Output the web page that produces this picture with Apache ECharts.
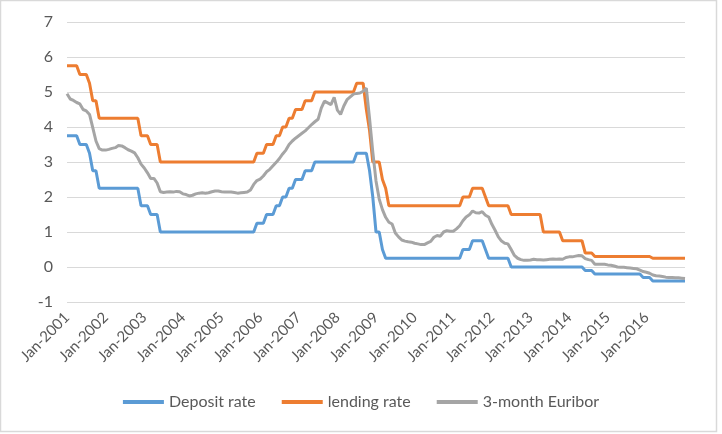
<!DOCTYPE html>
<html>
<head>
<meta charset="utf-8">
<script src="https://cdn.jsdelivr.net/npm/echarts@6/dist/echarts.min.js"></script>
<style>
html,body{margin:0;padding:0;background:#fff;}
#chart{width:722px;height:434px;}
</style>
</head>
<body>
<div id="chart"></div>
<script>
// Month names and years used to build the monthly category labels (Jan-2001 .. Jan-2017)
var monthNames = ['Jan','Feb','Mar','Apr','May','Jun','Jul','Aug','Sep','Oct','Nov','Dec'];
var years = [2001,2002,2003,2004,2005,2006,2007,2008,2009,2010,2011,2012,2013,2014,2015,2016,2017];

// Deposit facility rate, monthly (one row per year)
var depositRate = [
  3.75,3.75,3.75,3.75,3.5,3.5,3.5,3.25,2.75,2.75,2.25,2.25,
  2.25,2.25,2.25,2.25,2.25,2.25,2.25,2.25,2.25,2.25,2.25,1.75,
  1.75,1.75,1.5,1.5,1.5,1,1,1,1,1,1,1,
  1,1,1,1,1,1,1,1,1,1,1,1,
  1,1,1,1,1,1,1,1,1,1,1,1.25,
  1.25,1.25,1.5,1.5,1.5,1.75,1.75,2,2,2.25,2.25,2.5,
  2.5,2.5,2.75,2.75,2.75,3,3,3,3,3,3,3,
  3,3,3,3,3,3,3.25,3.25,3.25,3.25,2.75,2,
  1,1,0.5,0.25,0.25,0.25,0.25,0.25,0.25,0.25,0.25,0.25,
  0.25,0.25,0.25,0.25,0.25,0.25,0.25,0.25,0.25,0.25,0.25,0.25,
  0.25,0.25,0.25,0.5,0.5,0.5,0.75,0.75,0.75,0.75,0.5,0.25,
  0.25,0.25,0.25,0.25,0.25,0.25,0,0,0,0,0,0,
  0,0,0,0,0,0,0,0,0,0,0,0,
  0,0,0,0,0,-0.1,-0.1,-0.1,-0.2,-0.2,-0.2,-0.2,
  -0.2,-0.2,-0.2,-0.2,-0.2,-0.2,-0.2,-0.2,-0.2,-0.2,-0.2,-0.3,
  -0.3,-0.3,-0.4,-0.4,-0.4,-0.4,-0.4,-0.4,-0.4,-0.4,-0.4,-0.4,
  -0.4
];

// Marginal lending facility rate, monthly
var lendingRate = [
  5.75,5.75,5.75,5.75,5.5,5.5,5.5,5.25,4.75,4.75,4.25,4.25,
  4.25,4.25,4.25,4.25,4.25,4.25,4.25,4.25,4.25,4.25,4.25,3.75,
  3.75,3.75,3.5,3.5,3.5,3,3,3,3,3,3,3,
  3,3,3,3,3,3,3,3,3,3,3,3,
  3,3,3,3,3,3,3,3,3,3,3,3.25,
  3.25,3.25,3.5,3.5,3.5,3.75,3.75,4,4,4.25,4.25,4.5,
  4.5,4.5,4.75,4.75,4.75,5,5,5,5,5,5,5,
  5,5,5,5,5,5,5.25,5.25,5.25,4.5,3.9,3,
  3,3,2.5,2.25,1.75,1.75,1.75,1.75,1.75,1.75,1.75,1.75,
  1.75,1.75,1.75,1.75,1.75,1.75,1.75,1.75,1.75,1.75,1.75,1.75,
  1.75,1.75,1.75,2,2,2,2.25,2.25,2.25,2.25,2,1.75,
  1.75,1.75,1.75,1.75,1.75,1.75,1.5,1.5,1.5,1.5,1.5,1.5,
  1.5,1.5,1.5,1.5,1,1,1,1,1,1,0.75,0.75,
  0.75,0.75,0.75,0.75,0.75,0.4,0.4,0.4,0.3,0.3,0.3,0.3,
  0.3,0.3,0.3,0.3,0.3,0.3,0.3,0.3,0.3,0.3,0.3,0.3,
  0.3,0.3,0.25,0.25,0.25,0.25,0.25,0.25,0.25,0.25,0.25,0.25,
  0.25
];

// 3-month Euribor, monthly
var euribor3m = [
  4.95,4.80,4.76,4.70,4.66,4.50,4.46,4.36,3.98,3.60,3.38,3.34,
  3.34,3.36,3.39,3.41,3.47,3.46,3.41,3.35,3.31,3.26,3.12,2.94,
  2.83,2.69,2.53,2.53,2.40,2.15,2.13,2.14,2.15,2.14,2.16,2.15,
  2.09,2.07,2.03,2.05,2.09,2.11,2.12,2.11,2.12,2.15,2.17,2.17,
  2.15,2.14,2.14,2.14,2.13,2.11,2.12,2.13,2.14,2.20,2.36,2.47,
  2.51,2.60,2.72,2.79,2.89,2.99,3.10,3.23,3.34,3.50,3.60,3.68,
  3.75,3.82,3.89,3.98,4.07,4.15,4.22,4.54,4.74,4.69,4.64,4.85,
  4.48,4.36,4.60,4.78,4.86,4.94,4.96,4.97,5.02,5.11,4.24,3.29,
  2.46,1.94,1.64,1.42,1.28,1.23,0.97,0.86,0.77,0.74,0.72,0.71,
  0.68,0.66,0.64,0.64,0.69,0.73,0.85,0.90,0.88,1.00,1.04,1.02,
  1.02,1.09,1.18,1.32,1.43,1.49,1.60,1.55,1.54,1.58,1.48,1.43,
  1.22,1.05,0.86,0.74,0.68,0.66,0.50,0.33,0.25,0.21,0.19,0.19,
  0.20,0.22,0.21,0.21,0.20,0.21,0.22,0.23,0.22,0.23,0.22,0.27,
  0.29,0.29,0.31,0.33,0.32,0.24,0.21,0.19,0.08,0.08,0.08,0.08,
  0.06,0.05,0.03,0.00,-0.01,-0.01,-0.02,-0.03,-0.04,-0.05,-0.09,-0.13,
  -0.15,-0.18,-0.23,-0.25,-0.26,-0.27,-0.29,-0.30,-0.30,-0.31,-0.31,-0.32,
  -0.33
];

var yTicks = [-1,0,1,2,3,4,5,6,7];
var seriesNames = ['Deposit rate','lending rate','3-month Euribor'];

var categories = [];
years.forEach(function(y){ monthNames.forEach(function(m){ categories.push(m + '-' + y); }); });
categories = categories.slice(0, depositRate.length);

var axisFont = 'Lato';
var chart = echarts.init(document.getElementById('chart'), null, {renderer:'canvas'});
chart.setOption({
  animation: false,
  backgroundColor: '#ffffff',
  color: ['#5B9BD5','#ED7D31','#A5A5A5'],
  graphic: [{
    type: 'rect', silent: true, z: -1,
    shape: {x: 0.5, y: 0.5, width: 716, height: 431},
    style: {fill: 'none', stroke: '#d9d9d9', lineWidth: 1.5}
  }],
  grid: {left: 67, right: 37, top: 22, height: 280, containLabel: false},
  legend: {
    data: seriesNames,
    bottom: 19,
    left: 'center',
    icon: 'rect',
    itemWidth: 41,
    itemHeight: 4,
    itemGap: 26,
    textStyle: {fontFamily: axisFont, fontSize: 16, color: '#595959'}
  },
  xAxis: {
    type: 'category',
    data: categories,
    boundaryGap: false,
    axisLine: {show: false},
    axisTick: {show: false},
    splitLine: {show: false},
    axisLabel: {
      rotate: 45,
      margin: 13,
      color: '#595959',
      fontFamily: axisFont,
      fontSize: 15,
      interval: function(idx){ return idx % 12 === 0 && idx < 192; }
    }
  },
  yAxis: {
    type: 'value',
    min: yTicks[0],
    max: yTicks[yTicks.length-1],
    interval: 1,
    axisLine: {show: false},
    axisTick: {show: false},
    splitLine: {lineStyle: {color: '#d9d9d9', width: 1}},
    axisLabel: {color: '#595959', fontFamily: axisFont, fontSize: 16, margin: 14}
  },
  series: [
    {name: seriesNames[0], type: 'line', data: depositRate, symbol: 'none', lineStyle: {width: 3}},
    {name: seriesNames[1], type: 'line', data: lendingRate, symbol: 'none', lineStyle: {width: 3}},
    {name: seriesNames[2], type: 'line', data: euribor3m, symbol: 'none', lineStyle: {width: 3}, z: 3}
  ]
});
</script>
</body>
</html>
